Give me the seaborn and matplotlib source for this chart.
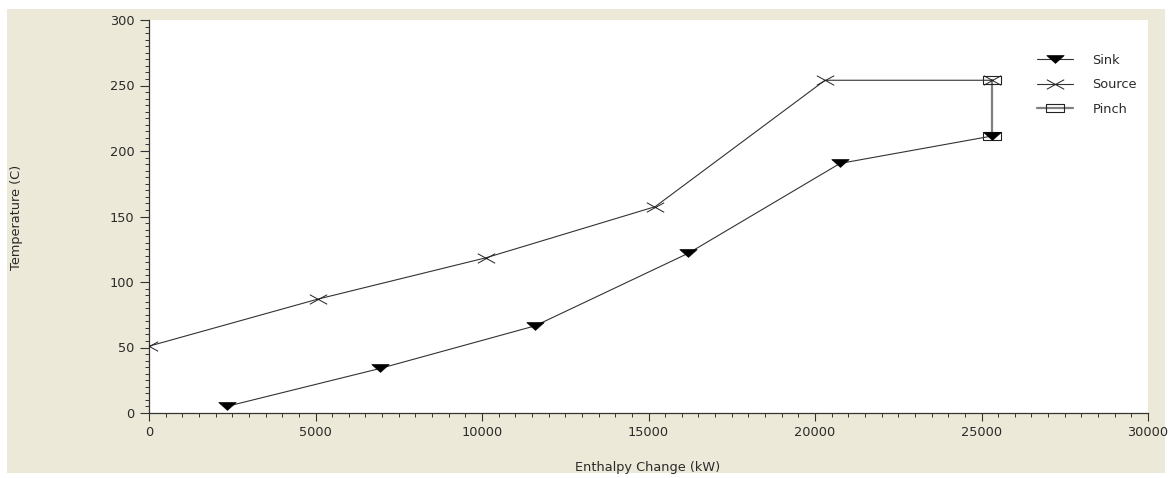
import matplotlib
matplotlib.use("Agg")
import matplotlib.pyplot as plt
import matplotlib.patches as mpatches
from matplotlib.path import Path
from matplotlib.ticker import MultipleLocator
import seaborn as sns
import pandas as pd

# ---- data ----
source_x = [0, 5080, 10120, 15200, 20300, 25330]
source_y = [51, 87, 118.5, 157.5, 254, 254]
sink_x = [2330, 6940, 11590, 16200, 20750, 25330]
sink_y = [5, 34, 66.5, 122, 190.5, 211.5]
pinch_x = [25330, 25330]
pinch_y = [254, 211.5]
x_ticks = [0, 5000, 10000, 15000, 20000, 25000, 30000]
y_ticks = [0, 50, 100, 150, 200, 250, 300]

sns.set_style("ticks")
plt.rcParams["font.family"] = ["DejaVu Sans"]
FS = 9.3

W, H = 1170, 478
fig = plt.figure(figsize=(W / 100, H / 100), dpi=100)
fig.patch.set_facecolor("white")
fig.patches.append(mpatches.Rectangle((7 / W, 1 - 473 / H), (1165 - 7) / W, (473 - 9) / H,
                                      transform=fig.transFigure, facecolor="#ECE9D8",
                                      edgecolor="none", zorder=-10))

ax = fig.add_axes([149 / W, 1 - 413 / H, (1148 - 149) / W, (413 - 20) / H])
ax.set_zorder(5)
ax.set_facecolor("white")

tri = Path([(-1, 0.45), (1, 0.45), (0, -0.45), (-1, 0.45)],
           [Path.MOVETO, Path.LINETO, Path.LINETO, Path.CLOSEPOLY])
cross = Path([(-1, -0.55), (1, 0.55), (-1, 0.55), (1, -0.55)],
             [Path.MOVETO, Path.LINETO, Path.MOVETO, Path.LINETO])
rect = Path([(-1, -0.45), (1, -0.45), (1, 0.45), (-1, 0.45), (-1, -0.45)],
            [Path.MOVETO, Path.LINETO, Path.LINETO, Path.LINETO, Path.CLOSEPOLY])

df_pinch = pd.DataFrame({"x": pinch_x, "y": pinch_y})
df_source = pd.DataFrame({"x": source_x, "y": source_y})
df_sink = pd.DataFrame({"x": sink_x, "y": sink_y})

sns.lineplot(data=df_sink, x="x", y="y", ax=ax, estimator=None, sort=False,
             color="#333333", lw=0.8, marker=tri, markersize=12.5,
             markerfacecolor="black", markeredgecolor="black", markeredgewidth=0.5,
             label="Sink", zorder=4)
sns.lineplot(data=df_source, x="x", y="y", ax=ax, estimator=None, sort=False,
             color="#333333", lw=0.8, marker=cross, markersize=12.5,
             markerfacecolor="none", markeredgecolor="#222222", markeredgewidth=0.7,
             label="Source", zorder=4)
sns.lineplot(data=df_pinch, x="x", y="y", ax=ax, estimator=None, sort=False,
             color="#808080", lw=1.6, marker=rect, markersize=13,
             markerfacecolor="none", markeredgecolor="#222222", markeredgewidth=0.8,
             label="Pinch", zorder=3)

ax.set_xlim(0, 30000)
ax.set_ylim(0, 300)
ax.set_xticks(x_ticks)
ax.set_yticks(y_ticks)
ax.set_xticklabels([str(v) for v in x_ticks])
ax.set_yticklabels([str(v) for v in y_ticks])
ax.xaxis.set_minor_locator(MultipleLocator(500))
ax.yaxis.set_minor_locator(MultipleLocator(5))
ax.tick_params(axis="both", which="major", length=6, width=0.8, color="#333333",
               labelsize=FS, labelcolor="#2a2a2a", direction="out")
ax.tick_params(axis="y", which="major", length=6.5, pad=4)
ax.tick_params(axis="x", which="major", pad=3)
ax.tick_params(axis="both", which="minor", length=3, width=0.7, color="#333333", direction="out")

for s in ["top", "right"]:
    ax.spines[s].set_visible(False)
for s in ["left", "bottom"]:
    ax.spines[s].set_color("#333333")
    ax.spines[s].set_linewidth(0.9)

ax.set_xlabel("")
ax.set_ylabel("")
fig.text(648 / W, 1 - 467 / H, "Enthalpy Change (kW)", ha="center", va="center",
         fontsize=FS, color="#2a2a2a")
fig.text(17 / W, 1 - 217 / H, "Temperature (C)", ha="center", va="center",
         rotation=90, fontsize=FS, color="#2a2a2a")

handles, labels = ax.get_legend_handles_labels()
leg = ax.legend(handles, labels, loc="upper left", bbox_to_anchor=(1037 / W, 1 - 54 / H),
                bbox_transform=fig.transFigure, frameon=False, fontsize=FS,
                handlelength=2.8, handletextpad=1.5, labelspacing=0.88, borderpad=0,
                borderaxespad=0)
for t in leg.get_texts():
    t.set_color("#2a2a2a")

fig.savefig("out.png", dpi=100)
